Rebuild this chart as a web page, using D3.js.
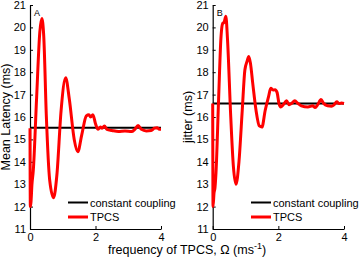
<!DOCTYPE html>
<html>
<head>
<meta charset="utf-8">
<script src="https://cdn.jsdelivr.net/npm/d3@7"></script>
<style>
  html, body { margin: 0; padding: 0; background: #fff; }
  text { font-family: "Liberation Sans", Arial, sans-serif; fill: #000; }
</style>
</head>
<body>
<svg id="chart" width="359" height="261"></svg>
<script>
// ---- data ----
const xTicks = [0, 2, 4];
const yTicks = [11, 12, 13, 14, 15, 16, 17, 18, 19, 20, 21];
const constLatency = 15.52;
const constJitter = 16.6;

const freqA = [0, 0.01, 0.03, 0.06, 0.1, 0.2, 0.3, 0.36, 0.42, 0.5, 0.6, 0.72, 0.82, 0.95, 1.09, 1.2, 1.35, 1.46, 1.58, 1.72, 1.8, 1.85, 1.92, 2.0, 2.08, 2.15, 2.2, 2.27, 2.35, 2.5, 2.7, 2.9, 3.1, 3.2, 3.3, 3.4, 3.55, 3.7, 3.8, 3.88, 3.95, 4.0];
const latencyA = [15.5, 12.0, 12.2, 13.0, 13.6, 16.8, 19.8, 20.4, 19.6, 16.0, 13.2, 12.4, 13.4, 16.3, 17.75, 16.8, 15.0, 14.45, 15.2, 16.05, 16.1, 16.0, 16.1, 15.7, 15.45, 15.55, 15.5, 15.6, 15.45, 15.4, 15.35, 15.38, 15.35, 15.45, 15.62, 15.45, 15.38, 15.4, 15.5, 15.52, 15.45, 15.45];

const freqB = [0, 0.01, 0.04, 0.07, 0.1, 0.18, 0.25, 0.31, 0.34, 0.4, 0.45, 0.55, 0.63, 0.71, 0.8, 0.9, 0.98, 1.05, 1.1, 1.15, 1.22, 1.32, 1.42, 1.5, 1.6, 1.7, 1.77, 1.85, 1.9, 1.96, 2.02, 2.07, 2.15, 2.25, 2.33, 2.4, 2.5, 2.6, 2.7, 2.9, 3.05, 3.12, 3.2, 3.3, 3.38, 3.5, 3.62, 3.7, 3.78, 3.85, 3.92, 4.0];
const jitterB = [16.6, 12.0, 12.6, 12.85, 13.5, 16.8, 19.5, 20.2, 20.2, 20.5, 19.5, 16.0, 13.8, 13.0, 14.0, 16.3, 18.1, 18.5, 18.7, 18.4, 17.5, 16.3, 15.6, 15.55, 16.3, 16.9, 17.28, 17.2, 17.22, 17.1, 16.6, 16.45, 16.55, 16.72, 16.55, 16.6, 16.72, 16.6, 16.5, 16.45, 16.5, 16.42, 16.55, 16.78, 16.6, 16.5, 16.48, 16.55, 16.68, 16.6, 16.62, 16.6];

const svg = d3.select("#chart");

function panel(opts) {
  const x = d3.scaleLinear().domain([0, 4]).range([opts.x0, opts.x1]);
  const y = d3.scaleLinear().domain([11, 21]).range([opts.yb, opts.yt]);
  const g = svg.append("g");

  // axes
  const xa = g.append("g").attr("transform", `translate(0,${opts.yb})`)
    .call(d3.axisBottom(x).tickValues(xTicks).tickFormat(d3.format("d")).tickSizeInner(-3).tickSizeOuter(0).tickPadding(6));
  const ya = g.append("g").attr("transform", `translate(${opts.x0},0)`)
    .call(d3.axisLeft(y).tickValues(yTicks).tickFormat(d3.format("d")).tickSizeInner(-3).tickSizeOuter(0).tickPadding(4));
  [xa, ya].forEach(a => {
    a.select(".domain").attr("stroke", "#000").attr("stroke-width", 1.2);
    a.selectAll(".tick line").attr("stroke", "#000");
    a.selectAll("text").style("font-family", "Liberation Sans, Arial, sans-serif").style("font-size", "11px").attr("fill", "#000");
  });
  xa.selectAll("text").attr("dy", "0.55em");

  // constant line
  g.append("line")
    .attr("x1", x(0)).attr("x2", x(4))
    .attr("y1", y(opts.constVal)).attr("y2", y(opts.constVal))
    .attr("stroke", "#000").attr("stroke-width", 2);

  // curve
  const line = d3.line().x(d => x(d[0])).y(d => y(d[1])).curve(d3.curveMonotoneX);
  g.append("path")
    .datum(opts.xs.map((v, i) => [v, opts.ys[i]]))
    .attr("d", line)
    .attr("fill", "none").attr("stroke", "#ff0000").attr("stroke-width", 3)
    .attr("stroke-linejoin", "round");

  // panel letter
  g.append("text").attr("x", opts.x0 + 4).attr("y", 15.5).text(opts.letter)
    .style("font-size", "9px");

  // y title
  g.append("text")
    .attr("transform", `translate(${opts.titleX},${(opts.yt + opts.yb) / 2}) rotate(-90)`)
    .attr("text-anchor", "middle")
    .style("font-size", "12.5px")
    .text(opts.title);

  // legend
  const lx = opts.legX;
  const items = [["constant coupling", "#000", 2, 202.5], ["TPCS", "#ff0000", 3, 217]];
  items.forEach(([label, col, w, ly]) => {
    g.append("line").attr("x1", lx).attr("x2", lx + 20).attr("y1", ly).attr("y2", ly)
      .attr("stroke", col).attr("stroke-width", w);
    g.append("text").attr("x", lx + 22).attr("y", ly + 4).style("font-size", "11px").text(label);
  });
}

panel({ x0: 30, x1: 161, yt: 5, yb: 229, xs: freqA, ys: latencyA, constVal: constLatency,
        letter: "A", title: "Mean Latency (ms)", titleX: 10, legX: 68 });
panel({ x0: 212.7, x1: 344, yt: 5, yb: 229, xs: freqB, ys: jitterB, constVal: constJitter,
        letter: "B", title: "jitter (ms)", titleX: 192, legX: 251 });

// x title
const xt = svg.append("text").attr("x", 187).attr("y", 254).attr("text-anchor", "middle")
  .style("font-size", "12.5px");
xt.append("tspan").text("frequency of TPCS, Ω (ms");
xt.append("tspan").attr("dy", -5).style("font-size", "9px").text("-1");
xt.append("tspan").attr("dy", 5).text(")");
</script>
</body>
</html>
